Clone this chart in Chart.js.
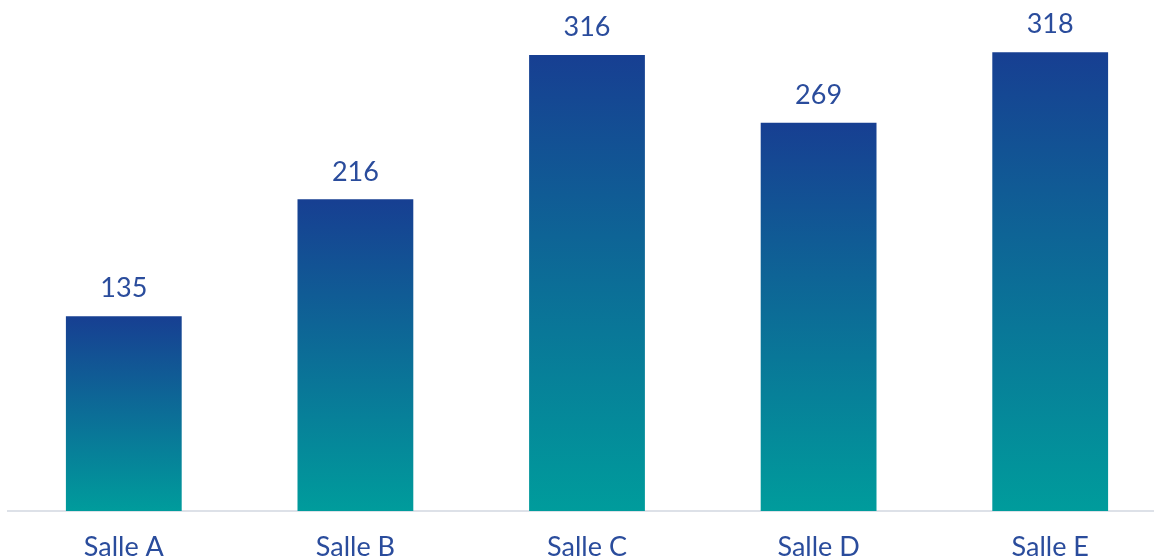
<!DOCTYPE html>
<html>
<head>
<meta charset="utf-8">
<script src="https://cdn.jsdelivr.net/npm/chart.js@4.4.0/dist/chart.umd.min.js"></script>
<style>
  html, body { margin: 0; padding: 0; background: #fff; overflow: hidden; }
  #wrap { position: relative; width: 1174px; height: 558px; }
</style>
</head>
<body>
<div id="wrap"><canvas id="chart"></canvas></div>
<script>
const categories = ['Salle A', 'Salle B', 'Salle C', 'Salle D', 'Salle E'];
const values = [135, 216, 316, 269, 318];

const textColor = '#2a4c9c';
const topColor = '#173f92';
const bottomColor = '#009c9c';
const fontFamily = 'Lato, "Open Sans", sans-serif';

// gradient per bar, from its top down to the baseline
function barGradient(context) {
  const chart = context.chart;
  const { ctx, chartArea, scales } = chart;
  if (!chartArea) return bottomColor;
  const v = context.raw;
  const yTop = scales.y.getPixelForValue(v);
  const yBase = scales.y.getPixelForValue(0);
  const g = ctx.createLinearGradient(0, yTop, 0, yBase);
  g.addColorStop(0, topColor);
  g.addColorStop(1, bottomColor);
  return g;
}

// value labels above the bars
const valueLabels = {
  id: 'valueLabels',
  afterDatasetsDraw(chart) {
    const { ctx } = chart;
    const meta = chart.getDatasetMeta(0);
    ctx.save();
    ctx.font = '27px ' + fontFamily;
    ctx.fillStyle = textColor;
    ctx.textAlign = 'center';
    ctx.textBaseline = 'bottom';
    meta.data.forEach((bar, i) => {
      ctx.fillText(String(values[i]), bar.x, bar.y - 14);
    });
    ctx.restore();
  }
};

new Chart(document.getElementById('chart'), {
  type: 'bar',
  data: {
    labels: categories,
    datasets: [{
      data: values,
      backgroundColor: barGradient,
      borderWidth: 0,
      barPercentage: 0.5,
      categoryPercentage: 1.0
    }]
  },
  options: {
    responsive: true,
    maintainAspectRatio: false,
    animation: false,
    layout: { padding: { top: 6, left: 8, right: 8, bottom: 0 } },
    plugins: {
      legend: { display: false },
      tooltip: { enabled: false }
    },
    scales: {
      x: {
        grid: { display: false },
        border: { display: true, color: '#dde1e8', width: 2 },
        ticks: { color: textColor, font: { family: fontFamily, size: 27 }, padding: 12 },
        afterFit(scale) { scale.height = 47; }
      },
      y: {
        display: false,
        min: 0,
        max: 350
      }
    }
  },
  plugins: [valueLabels]
});
</script>
</body>
</html>
